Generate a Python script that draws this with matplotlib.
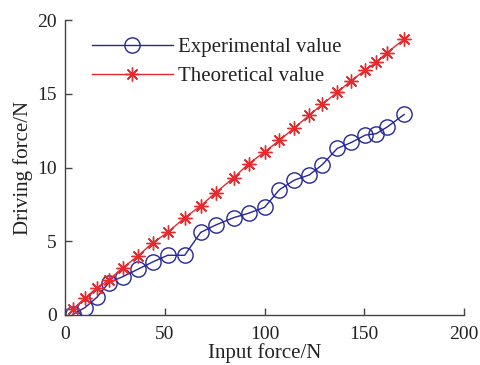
import matplotlib.pyplot as plt

# Valores
input_force = [4, 10, 16, 22, 29, 36.5, 44, 51.5, 60, 68, 75.5, 84.5, 92,
               100, 107.5, 115, 122.5, 129, 136.5, 143.5, 150.5, 156, 161.5, 170]
experimental = [0.05, 0.5, 1.2, 2.2, 2.6, 3.1, 3.6, 4.05, 4.05, 5.6, 6.1, 6.6, 6.9,
                7.3, 8.5, 9.15, 9.5, 10.2, 11.3, 11.7, 12.2, 12.3, 12.75, 13.6]
theoretical = [0.4, 1.15, 1.8, 2.4, 3.2, 4.0, 4.9, 5.6, 6.6, 7.4, 8.3, 9.3, 10.25,
               11.05, 11.85, 12.7, 13.55, 14.3, 15.1, 15.9, 16.6, 17.15, 17.8, 18.7]

plt.rcParams['font.family'] = ['Liberation Serif', 'DejaVu Serif']

fig = plt.figure(figsize=(4.8, 3.65), dpi=100)
ax = fig.add_axes([0.1354, 0.137, 0.8313, 0.808])

ax.plot(input_force, experimental, color='#25259a', linewidth=1.0,
        marker='o', markersize=11, markerfacecolor='none',
        markeredgecolor='#25259a', markeredgewidth=1.0, label='Experimental value')
ax.plot(input_force, theoretical, color='#e62a2e', linewidth=1.0,
        marker=(8, 2, 0), markersize=10, markeredgecolor='#e62a2e',
        markeredgewidth=1.0, label='Theoretical value')

ax.set_xlim(0, 200)
ax.set_ylim(0, 20)
ax.set_xticks([0, 50, 100, 150, 200])
ax.set_yticks([0, 5, 10, 15, 20])

for s in ['top', 'right']:
    ax.spines[s].set_visible(False)
for s in ['left', 'bottom']:
    ax.spines[s].set_color('#444444')
    ax.spines[s].set_linewidth(1.0)

ax.tick_params(direction='in', length=5, width=1.0, color='#444444',
               labelsize=14, labelcolor='#222222')
ax.tick_params(axis='x', pad=8)
ax.tick_params(axis='y', pad=6)

ax.set_xlabel('Input force/N', fontsize=15, color='#222222', labelpad=0)
ax.set_ylabel('Driving force/N', fontsize=15, color='#222222', labelpad=3)

ax.legend(loc='upper left', bbox_to_anchor=(0.02, 1.005), frameon=False,
          fontsize=15, handlelength=3.9, handletextpad=0.25,
          labelspacing=0.45, labelcolor='#222222')

fig.savefig('out.png', dpi=100)
